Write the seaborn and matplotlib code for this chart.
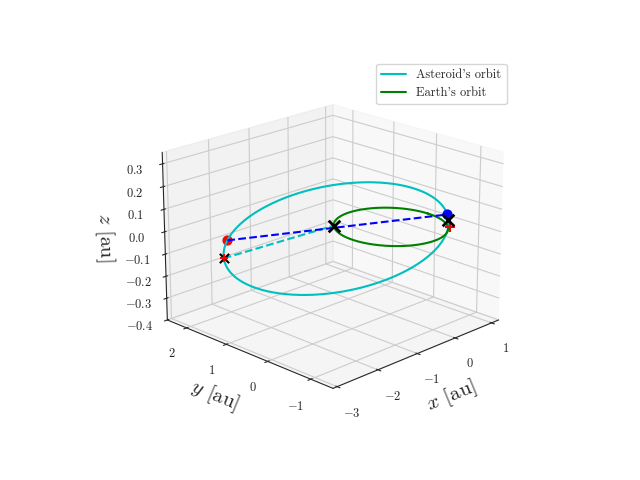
import numpy as np
import matplotlib
matplotlib.use("Agg")
import matplotlib.pyplot as plt
import seaborn as sns

# asteroid orbit elements (heliocentric, au)
ast_q = 1.0          # perihelion distance
ast_Q = 2.95         # aphelion distance
peri_angle_deg = -42 # direction of perihelion in ecliptic
tilt_major = 0.045   # z slope along major axis
tilt_minor = 0.05    # z slope along minor axis

earth_radius = 1.0

# markers
earth_start = [-0.71, 0.71, 0.0]
earth_end = [0.71, -0.71, 0.03]
ast_peri_nu_deg = 3.0
ast_start_nu_deg = 181.0
ast_obs_nu_deg = 170.0
plus_near = [0.73, -0.73, 0.0]


def asteroid_xyz(nu):
    a = (ast_q + ast_Q) / 2
    e = (ast_Q - ast_q) / (ast_Q + ast_q)
    r = a * (1 - e**2) / (1 + e * np.cos(nu))
    u, v = r * np.cos(nu), r * np.sin(nu)
    w = np.deg2rad(peri_angle_deg)
    x = u * np.cos(w) - v * np.sin(w)
    y = u * np.sin(w) + v * np.cos(w)
    z = tilt_major * u + tilt_minor * v
    return x, y, z


sns.set_style("white")
plt.rcParams.update({
    "font.family": "serif",
    "font.serif": ["cmr10"],
    "mathtext.fontset": "cm",
    "axes.formatter.use_mathtext": True,
})

fig = plt.figure(figsize=(6.4, 4.8), dpi=100)
ax = fig.add_subplot(projection="3d")

nu = np.linspace(0, 2 * np.pi, 400)
ax.plot(*asteroid_xyz(nu), color="c", label="Asteroid's orbit")
ax.plot(earth_radius * np.cos(nu), earth_radius * np.sin(nu), 0 * nu,
        color="green", label="Earth's orbit")

start = asteroid_xyz(np.deg2rad(ast_start_nu_deg))
obs = asteroid_xyz(np.deg2rad(ast_obs_nu_deg))
peri = asteroid_xyz(np.deg2rad(ast_peri_nu_deg))

ax.plot([start[0], earth_start[0]], [start[1], earth_start[1]],
        [start[2], earth_start[2]], "c--")
ax.plot([obs[0], peri[0]], [obs[1], peri[1]], [obs[2], peri[2]], "b--")

ax.scatter(*obs, marker="o", color="r", s=40)
ax.scatter(*peri, marker="o", color="b", s=40)
ax.scatter(*earth_start, marker="x", color="k", s=70, linewidths=2)
ax.scatter(*earth_end, marker="x", color="k", s=70, linewidths=2)
ax.scatter(*start, marker="x", color="k", s=45, linewidths=1.5)
ax.scatter(*start, marker="+", color="r", s=30)
ax.scatter(*plus_near, marker="+", color="r", s=50)

ax.set_xlim(-3.1, 1.2)
ax.set_ylim(-1.5, 2.5)
ax.set_zlim(-0.4, 0.35)
ax.set_xticks([-3, -2, -1, 0, 1])
ax.set_yticks([-1, 0, 1, 2])
ax.set_zticks([-0.4, -0.3, -0.2, -0.1, 0.0, 0.1, 0.2, 0.3])
ax.tick_params(labelsize=9)
ax.set_xlabel("$x$ [au]", fontsize=15)
ax.set_ylabel("$y$ [au]", fontsize=15)
ax.set_zlabel("$z$ [au]", fontsize=15)
ax.view_init(elev=20, azim=-135)
ax.legend(loc="upper right", fontsize=9)

plt.savefig("out.png", dpi=100)
